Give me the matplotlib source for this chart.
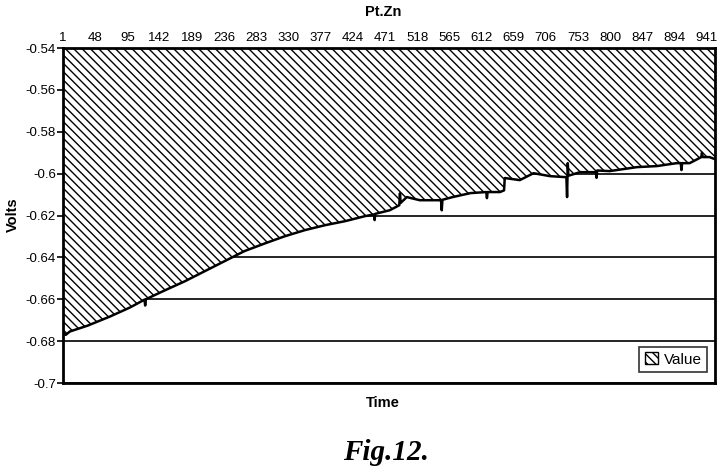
import matplotlib
matplotlib.use("Agg")
import matplotlib.pyplot as plt
from matplotlib.patches import Patch

# ---- data ----
time_idx = [1, 5, 11, 37, 70, 99, 120, 121, 122, 150, 179, 208, 237, 266, 296, 325,
            354, 384, 413, 442, 455, 456, 457, 478, 492, 493, 494, 503, 522, 551,
            553, 554, 555, 570, 596, 619, 620, 621, 639, 645, 646, 668, 688, 712,
            736, 737, 738, 739, 756, 779, 780, 781, 799, 839, 868, 897, 903, 904,
            905, 916, 933, 934, 935, 945, 953]
volts = [-0.6760, -0.6770, -0.6754, -0.6726, -0.6682, -0.6639, -0.6602, -0.6630, -0.6600,
         -0.6557, -0.6514, -0.6466, -0.6418, -0.6370, -0.6333, -0.6299,
         -0.6270, -0.6246, -0.6227, -0.6203, -0.6195, -0.6222, -0.6192, -0.6175, -0.6151,
         -0.6094, -0.6140, -0.6112, -0.6127, -0.6127,
         -0.6127, -0.6175, -0.6125, -0.6112, -0.6093, -0.6088, -0.6117, -0.6088, -0.6088,
         -0.6080, -0.6021, -0.6031, -0.5998, -0.6012,
         -0.6017, -0.6112, -0.5950, -0.6010, -0.5993, -0.5993, -0.6020, -0.5985, -0.5988,
         -0.5969, -0.5964, -0.5950, -0.5950, -0.5983,
         -0.5950, -0.5950, -0.5921, -0.5900, -0.5921, -0.5921, -0.5931]

x_ticks = [1, 48, 95, 142, 189, 236, 283, 330, 377, 424, 471, 518, 565, 612,
           659, 706, 753, 800, 847, 894, 941]
y_ticks = [-0.54, -0.56, -0.58, -0.6, -0.62, -0.64, -0.66, -0.68, -0.7]
y_labels = ['-0.54', '-0.56', '-0.58', '-0.6', '-0.62', '-0.64', '-0.66', '-0.68', '-0.7']

title = "Pt.Zn"
x_label = "Time"
y_label = "Volts"
series_name = "Value"
caption = "Fig.12."

# ---- drawing ----
plt.rcParams['font.family'] = ['Liberation Sans', 'DejaVu Sans']
plt.rcParams['hatch.linewidth'] = 1.0

fig = plt.figure(figsize=(7.28, 4.76), dpi=100)
ax = fig.add_axes([63 / 728, 1 - 383 / 476, (715 - 63) / 728, (383 - 48) / 476])

ymin, ymax = -0.7, -0.54
for yv in y_ticks:
    ax.axhline(yv, color='black', lw=1.2, zorder=1)

ax.fill_between(time_idx, volts, ymax, facecolor='white', edgecolor='black',
                hatch='\\\\\\\\', linewidth=0, zorder=2)
ax.plot(time_idx, volts, color='black', lw=1.8, zorder=3)

ax.set_xlim(time_idx[0], time_idx[-1])
ax.set_ylim(ymin, ymax)

ax.xaxis.tick_top()
ax.set_xticks(x_ticks)
ax.set_xticklabels([str(t) for t in x_ticks], fontsize=9.5)
ax.tick_params(axis='x', length=0, pad=3)
ax.set_yticks(y_ticks)
ax.set_yticklabels(y_labels, fontsize=9.5)
ax.tick_params(axis='y', length=4, width=1.2, pad=1)

for sp in ax.spines.values():
    sp.set_linewidth(2)
    sp.set_color('black')
    sp.set_zorder(4)

fig.text(383 / 728, 1 - 12 / 476, title, ha='center', va='center',
         fontsize=10.5, fontweight='bold')
fig.text(383 / 728, 1 - 403 / 476, x_label, ha='center', va='center',
         fontsize=10.5, fontweight='bold')
fig.text(13 / 728, 1 - 215 / 476, y_label, ha='center', va='center',
         fontsize=10.5, fontweight='bold', rotation=90)
fig.text(386 / 728, 1 - 453 / 476, caption, ha='center', va='center',
         fontsize=21, fontstyle='italic', fontweight='bold',
         family=['Liberation Serif', 'DejaVu Serif'])

handle = Patch(facecolor='white', edgecolor='black', hatch='\\\\\\\\', label=series_name)
leg = ax.legend(handles=[handle], loc='lower right', bbox_to_anchor=(0.988, 0.033),
                borderaxespad=0, fontsize=11, frameon=True, fancybox=False,
                handlelength=0.9, handleheight=0.8, handletextpad=0.35,
                borderpad=0.35)
leg.get_frame().set_edgecolor('black')
leg.get_frame().set_linewidth(1.2)

fig.savefig('out.png', dpi=100, facecolor='white')
